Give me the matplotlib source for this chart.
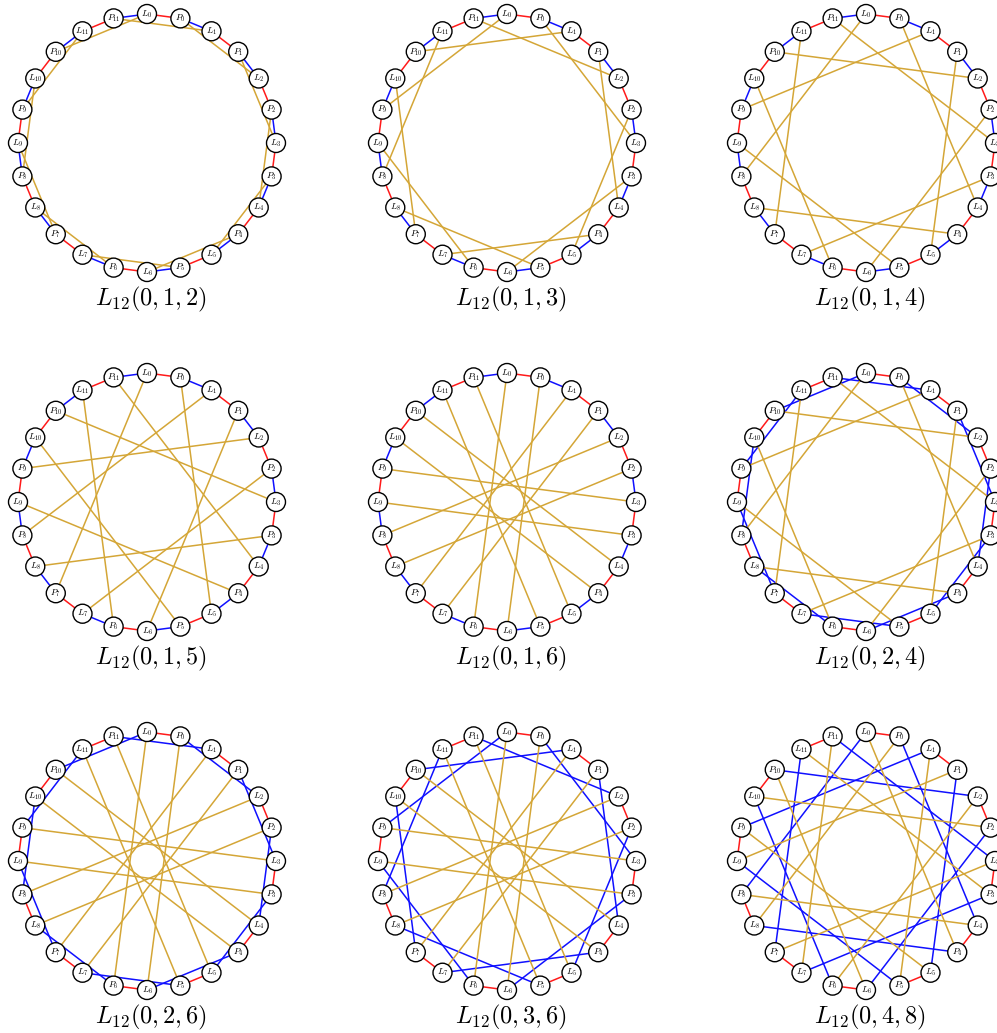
import numpy as np
import matplotlib
matplotlib.use('Agg')
import matplotlib.pyplot as plt
from matplotlib.patches import Circle

plt.rcParams['mathtext.fontset'] = 'cm'

n = 12
# shifts (0, a, b) of each configuration L_12(0, a, b)
configs = [(0, 1, 2), (0, 1, 3), (0, 1, 4),
           (0, 1, 5), (0, 1, 6), (0, 2, 4),
           (0, 2, 6), (0, 3, 6), (0, 4, 8)]
edge_colors = ['#ff1a1a', '#1010ff', '#d4a637']  # shift 0, a, b
col_x = [147, 507, 866]
row_y = [143, 502, 861]
ring_r = 129
node_r = 9.5


def node_pos(k, cx, cy):
    # 24 vertices around the circle, L_0 at top, clockwise L_0, P_0, L_1, P_1, ...
    t = np.deg2rad(k * 360.0 / (2 * n))
    return cx + ring_r * np.sin(t), cy - ring_r * np.cos(t)


def plotLevi(ax, shifts, cx, cy):
    L = [node_pos(2 * i, cx, cy) for i in range(n)]
    P = [node_pos(2 * i + 1, cx, cy) for i in range(n)]
    for s, color in zip(shifts, edge_colors):
        for i in range(n):
            x0, y0 = L[i]
            x1, y1 = P[(i - s) % n]
            ax.plot([x0, x1], [y0, y1], color=color, lw=1.1, zorder=2)
    for i in range(n):
        for pos, name in ((L[i], 'L'), (P[i], 'P')):
            ax.add_patch(Circle(pos, node_r, facecolor='white', edgecolor='black', lw=1.0, zorder=3))
            ax.text(pos[0], pos[1], r'$%s_{%d}$' % (name, i), fontsize=6.5,
                    ha='center', va='center', zorder=4)
    ax.text(cx + 4, cy + 156, r'$L_{12}(%d,%d,%d)$' % shifts, fontsize=17.5,
            ha='center', va='center')


fig = plt.figure(figsize=(9.97, 10.33), dpi=100)
ax = fig.add_axes([0, 0, 1, 1])
ax.set_xlim(0, 997)
ax.set_ylim(1033, 0)
ax.set_aspect('equal')
ax.axis('off')

for idx, shifts in enumerate(configs):
    plotLevi(ax, shifts, col_x[idx % 3], row_y[idx // 3])

fig.savefig('out.png', dpi=100)
